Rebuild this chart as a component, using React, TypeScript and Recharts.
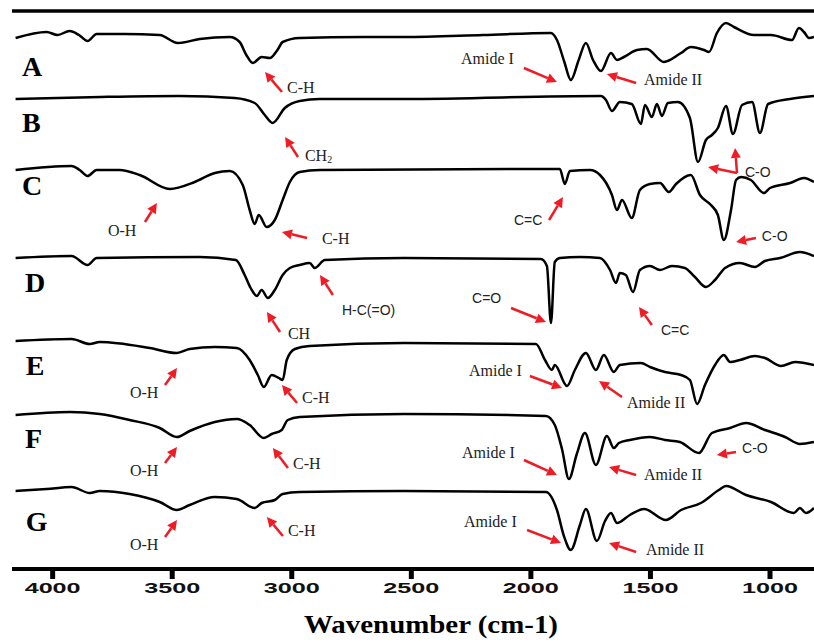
import * as React from 'react';
import { LineChart, Line, XAxis, YAxis, ReferenceLine, ReferenceDot } from 'recharts';

// FTIR spectra, [wavenumber, relative transmittance] for each sample
const traceA: [number, number][] = [
  [4155, -1], [4025, 5], [3980, 2], [3929, 6], [3890, 2], [3854, -4], [3816, 3], [3700, 3],
  [3552, 2], [3477, -6], [3385, -2], [3259, 0], [3218, -5], [3190, -18], [3163, -26], [3126, -20],
  [3092, -21], [3060, -13], [3038, -5], [2967, -1], [2700, 0], [2531, 0], [2200, 2], [1916, 4],
  [1891, -3], [1860, -25], [1833, -43], [1800, -23], [1770, -6], [1740, -23], [1707, -34], [1665, -16],
  [1640, -23], [1611, -20], [1556, -13], [1515, -12], [1444, -25], [1372, -16], [1331, -10], [1276, -13],
  [1255, -15], [1222, 4], [1184, 14], [1151, 10], [1067, 2], [996, 2], [908, -3], [879, 9],
  [858, 5], [837, -1], [816, 0],
];

const traceB: [number, number][] = [
  [4155, -1], [3800, 1], [3469, 2], [3239, 0], [3155, -5], [3113, -17], [3080, -25], [3029, -10],
  [2967, -3], [2883, -1], [2531, -1], [1707, 2], [1686, -2], [1661, -13], [1628, -4], [1578, -6],
  [1540, -26], [1523, -7], [1494, -19], [1473, -6], [1452, -18], [1427, -5], [1385, -4], [1335, -20],
  [1301, -64], [1268, -42], [1243, -37], [1218, -30], [1184, -8], [1155, -36], [1117, -7], [1075, -4],
  [1042, -35], [1008, -6], [916, -1], [816, 2],
];

const traceC: [number, number][] = [
  [4155, 0], [3921, 4], [3887, 0], [3854, -6], [3816, 0], [3720, 0], [3636, -5], [3510, -19],
  [3406, -12], [3322, -3], [3259, -1], [3205, -15], [3176, -40], [3155, -54], [3138, -45], [3105, -57],
  [3071, -50], [3038, -30], [3008, -12], [2967, -2], [2883, 0], [1879, 1], [1858, -14], [1837, -1],
  [1753, 0], [1711, -5], [1661, -25], [1640, -40], [1619, -30], [1578, -48], [1544, -20], [1502, -14],
  [1460, -13], [1423, -22], [1393, -14], [1331, -5], [1293, -25], [1247, -35], [1218, -45], [1193, -70],
  [1163, -40], [1142, -10], [1121, -7], [1080, -10], [1025, -23], [1000, -18], [916, -13], [858, -8],
  [816, -12],
];

const traceD: [number, number][] = [
  [4155, 0], [3921, 2], [3854, -7], [3816, 0], [3385, 1], [3234, -2], [3197, -17], [3172, -30],
  [3146, -38], [3126, -32], [3100, -40], [3071, -32], [3038, -17], [3008, -10], [2967, -7], [2925, -5],
  [2904, -10], [2862, -2], [2531, 0], [1958, -1], [1933, -8], [1916, -65], [1900, -4], [1879, 0],
  [1795, 1], [1711, 0], [1669, -12], [1644, -25], [1628, -15], [1603, -17], [1573, -34], [1544, -12],
  [1502, -8], [1460, -12], [1410, -8], [1356, -10], [1314, -19], [1268, -29], [1230, -22], [1188, -10],
  [1126, -5], [1063, -9], [1021, -3], [958, 0], [875, 6], [816, 2],
];

const traceE: [number, number][] = [
  [4155, 1], [3921, 3], [3845, -2], [3803, 0], [3594, -6], [3481, -11], [3427, -7], [3322, -5],
  [3230, -6], [3176, -18], [3142, -33], [3117, -45], [3084, -33], [3054, -36], [3038, -38], [3021, -18],
  [2987, -7], [2925, -4], [2531, -1], [1979, -2], [1941, -18], [1912, -28], [1900, -23], [1849, -44],
  [1816, -28], [1770, -11], [1728, -28], [1695, -13], [1653, -30], [1628, -23], [1540, -21], [1502, -25],
  [1439, -30], [1372, -33], [1335, -38], [1305, -62], [1272, -43], [1230, -23], [1193, -13], [1167, -20],
  [1126, -18], [1063, -14], [1021, -16], [954, -24], [895, -20], [816, -23],
];

const traceF: [number, number][] = [
  [4155, -1], [3929, 2], [3803, 0], [3678, -6], [3552, -14], [3481, -23], [3427, -17], [3322, -8],
  [3230, -5], [3176, -11], [3117, -24], [3084, -20], [3042, -16], [3017, -6], [2967, -3], [2531, 0],
  [1937, -2], [1900, -11], [1870, -35], [1841, -65], [1808, -40], [1774, -19], [1728, -51], [1682, -22],
  [1653, -34], [1632, -29], [1586, -26], [1502, -23], [1439, -26], [1377, -28], [1297, -39], [1243, -19],
  [1167, -14], [1100, -9], [1021, -16], [937, -23], [875, -30], [816, -28],
];

const traceG: [number, number][] = [
  [4155, 0], [4025, 2], [3921, 4], [3845, -2], [3803, 0], [3678, -3], [3552, -11], [3481, -19],
  [3427, -14], [3322, -6], [3230, -8], [3155, -17], [3126, -12], [3071, -9], [3038, -3], [2967, -1],
  [2531, 0], [1937, -1], [1891, -19], [1862, -45], [1833, -59], [1795, -34], [1770, -18], [1724, -50],
  [1690, -30], [1665, -22], [1640, -32], [1586, -24], [1527, -18], [1435, -29], [1372, -19], [1289, -12],
  [1214, 1], [1184, 5], [1100, -4], [996, -11], [900, -22], [875, -17], [850, -22], [816, -17],
];

const sampleNames = ['A', 'B', 'C', 'D', 'E', 'F', 'G'];
const traces = [traceA, traceB, traceC, traceD, traceE, traceF, traceG];
// vertical stacking offset of each spectrum
const stackOffsets = [532, 471, 399, 311, 227, 155, 78];
// where each sample letter sits
const nameAnchors: [number, number][] = [
  [4128, 493], [4128, 437], [4128, 374], [4116, 277], [4112, 194], [4116, 121], [4112, 38],
];

const xTicks = [4000, 3500, 3000, 2500, 2000, 1500, 1000];

type Note = {
  text: string;
  sans?: boolean;
  at: [number, number];
  tail: [number, number];
  heads: [number, number][];
};

// band assignments: label position, arrow tail and arrow head(s)
const notes: Note[] = [
  { text: 'C-H', at: [3020, 482], tail: [3041, 477], heads: [[3112, 497]] },
  { text: 'Amide I', at: [2292, 511], tail: [2029, 501], heads: [[1891, 487]] },
  { text: 'Amide II', at: [1527, 490], tail: [1560, 486], heads: [[1682, 495]] },
  { text: 'CH2', at: [2945, 414], tail: [2974, 412], heads: [[3028, 432]] },
  { text: 'C-O', sans: true, at: [1105, 397], tail: [1138, 396], heads: [[1146, 421], [1259, 402]] },
  { text: 'O-H', at: [3769, 339], tail: [3614, 347], heads: [[3564, 366]] },
  { text: 'C-H', at: [2874, 331], tail: [2936, 331], heads: [[3041, 337]] },
  { text: 'C=C', sans: true, at: [2071, 349], tail: [1924, 349], heads: [[1866, 372]] },
  { text: 'C-O', sans: true, at: [1034, 333], tail: [1059, 331], heads: [[1142, 327]] },
  { text: 'H-C(=O)', sans: true, at: [2790, 259], tail: [2828, 274], heads: [[2882, 294]] },
  { text: 'CH', at: [3016, 236], tail: [3049, 237], heads: [[3104, 257]] },
  { text: 'C=O', sans: true, at: [2246, 271], tail: [2083, 261], heads: [[1937, 247]] },
  { text: 'C=C', sans: true, at: [1456, 239], tail: [1494, 244], heads: [[1548, 262]] },
  { text: 'O-H', at: [3677, 177], tail: [3530, 184], heads: [[3480, 201]] },
  { text: 'C-H', at: [2957, 172], tail: [2978, 166], heads: [[3041, 184]] },
  { text: 'Amide I', at: [2259, 199], tail: [2004, 193], heads: [[1870, 181]] },
  { text: 'Amide II', at: [1598, 167], tail: [1619, 172], heads: [[1715, 188]] },
  { text: 'O-H', at: [3677, 99], tail: [3530, 106], heads: [[3480, 122]] },
  { text: 'C-H', at: [2995, 106], tail: [3016, 101], heads: [[3079, 121]] },
  { text: 'Amide I', at: [2288, 117], tail: [2029, 109], heads: [[1891, 94]] },
  { text: 'Amide II', at: [1527, 95], tail: [1560, 94], heads: [[1673, 102]] },
  { text: 'C-O', sans: true, at: [1117, 121], tail: [1142, 117], heads: [[1222, 114]] },
  { text: 'O-H', at: [3677, 25], tail: [3530, 32], heads: [[3480, 49]] },
  { text: 'C-H', at: [3016, 39], tail: [3037, 33], heads: [[3104, 52]] },
  { text: 'Amide I', at: [2280, 48], tail: [2016, 39], heads: [[1874, 26]] },
  { text: 'Amide II', at: [1519, 20], tail: [1560, 17], heads: [[1673, 26]] },
];

const RED = '#ee1c25';

const ArrowShape = (props: any) => {
  const { x1, y1, x2, y2 } = props;
  const dx = x2 - x1;
  const dy = y2 - y1;
  const len = Math.hypot(dx, dy) || 1;
  const ux = dx / len;
  const uy = dy / len;
  const headLen = 10;
  const half = 5;
  const bx = x2 - ux * headLen;
  const by = y2 - uy * headLen;
  const pts = `${x2},${y2} ${bx - uy * half},${by + ux * half} ${bx + uy * half},${by - ux * half}`;
  return (
    <g>
      <line x1={x1} y1={y1} x2={bx} y2={by} stroke={RED} strokeWidth={2.5} />
      <polygon points={pts} fill={RED} />
    </g>
  );
};

const noteText = (note: Note) => (props: any) => {
  const { cx, cy } = props;
  const font = note.sans ? 'Liberation Sans, Arial, sans-serif' : 'Liberation Serif, Times New Roman, serif';
  const size = note.sans ? 14 : 16;
  return (
    <text x={cx} y={cy} dominantBaseline="central" fontFamily={font} fontSize={size} fill="#222">
      {note.text === 'CH2' ? (
        <>
          CH<tspan fontSize={10} dy={4}>2</tspan>
        </>
      ) : (
        note.text
      )}
    </text>
  );
};

const nameText = (name: string) => (props: any) => (
  <text
    x={props.cx}
    y={props.cy}
    fontFamily="Liberation Serif, Times New Roman, serif"
    fontWeight="bold"
    fontSize={28}
    fill="#000"
  >
    {name}
  </text>
);

const WavenumberTick = (props: any) => {
  const { x, y, payload } = props;
  return (
    <text
      x={x}
      y={y + 12}
      textAnchor="middle"
      fontFamily="Liberation Sans, Arial, sans-serif"
      fontWeight="bold"
      fontSize={14}
      textLength={56}
      lengthAdjust="spacingAndGlyphs"
      fill="#111"
    >
      {payload.value}
    </text>
  );
};

const AxisTitle = (props: any) => {
  const { viewBox } = props;
  const cx = viewBox.x + viewBox.width / 2 + 18;
  return (
    <text
      x={cx}
      y={633}
      textAnchor="middle"
      fontFamily="Liberation Serif, Times New Roman, serif"
      fontWeight="bold"
      fontSize={25}
      textLength={254}
      lengthAdjust="spacingAndGlyphs"
      fill="#000"
    >
      Wavenumber (cm-1)
    </text>
  );
};

export default function App() {
  const series = traces.map((trace, i) =>
    trace.map(([wn, t]) => ({ wn, y: t + stackOffsets[i] }))
  );

  return (
    <div style={{ position: 'absolute', left: 0, top: 0, background: '#fff' }}>
      <LineChart width={814} height={643} margin={{ top: 11, right: 0, bottom: 4, left: 12 }}>
        <XAxis
          type="number"
          dataKey="wn"
          domain={[816, 4170]}
          reversed
          allowDataOverflow
          ticks={xTicks}
          height={70}
          tickSize={10}
          axisLine={{ stroke: '#000', strokeWidth: 4 }}
          tickLine={{ stroke: '#000', strokeWidth: 5 }}
          tick={<WavenumberTick />}
          label={<AxisTitle />}
        />
        <YAxis
          type="number"
          domain={[0, 558]}
          allowDataOverflow
          width={0}
          tick={false}
          tickLine={false}
          axisLine={{ stroke: '#000', strokeWidth: 8 }}
        />
        <ReferenceLine y={558} stroke="#000" strokeWidth={3.5} />
        {series.map((data, i) => (
          <Line
            key={sampleNames[i]}
            data={data}
            dataKey="y"
            type="monotone"
            stroke="#000"
            strokeWidth={2.5}
            dot={false}
            activeDot={false}
            isAnimationActive={false}
          />
        ))}
        {sampleNames.map((name, i) => (
          <ReferenceDot
            key={`name-${name}`}
            x={nameAnchors[i][0]}
            y={nameAnchors[i][1]}
            ifOverflow="visible"
            shape={nameText(name)}
          />
        ))}
        {notes.map((note, i) =>
          note.heads.map((head, j) => (
            <ReferenceLine
              key={`arrow-${i}-${j}`}
              segment={[
                { x: note.tail[0], y: note.tail[1] },
                { x: head[0], y: head[1] },
              ]}
              ifOverflow="visible"
              shape={ArrowShape}
            />
          ))
        )}
        {notes.map((note, i) => (
          <ReferenceDot
            key={`note-${i}`}
            x={note.at[0]}
            y={note.at[1]}
            ifOverflow="visible"
            shape={noteText(note)}
          />
        ))}
      </LineChart>
    </div>
  );
}
